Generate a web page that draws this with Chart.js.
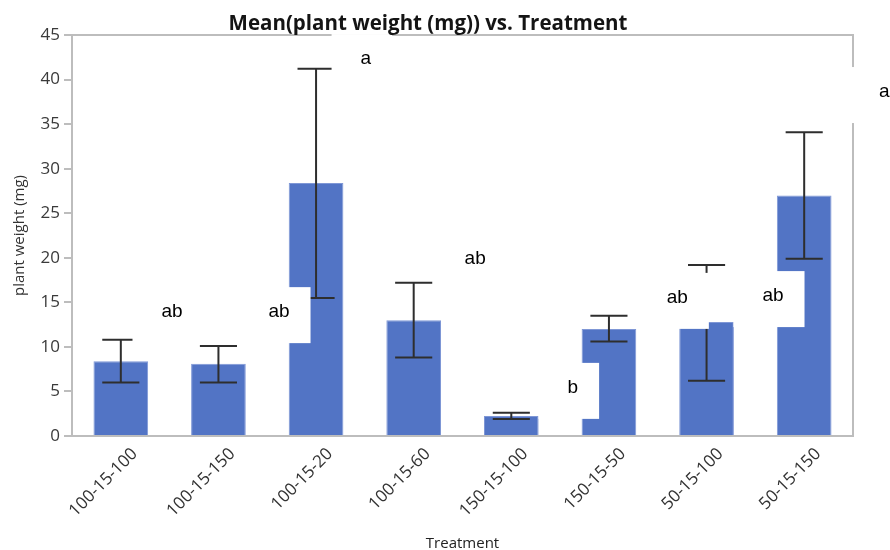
<!DOCTYPE html>
<html>
<head>
<meta charset="utf-8">
<script src="https://cdn.jsdelivr.net/npm/chart.js@4.4.1/dist/chart.umd.min.js"></script>
<style>
  html, body { margin: 0; padding: 0; background: #ffffff; }
  #wrap { width: 890px; height: 550px; position: relative; }
</style>
</head>
<body>
<div id="wrap"><canvas id="c" width="890" height="550"></canvas></div>
<script>
// Treatment groups and mean plant weight (mg) with error-bar limits
const treatments = ['100-15-100', '100-15-150', '100-15-20', '100-15-60', '150-15-100', '150-15-50', '50-15-100', '50-15-150'];
const meanWeight = [8.4, 8.1, 28.4, 13.0, 2.25, 12.0, 12.8, 27.0];
const errLow = [6.0, 6.0, 15.5, 8.8, 1.9, 10.6, 6.2, 19.9];
const errHigh = [10.8, 10.1, 41.2, 17.2, 2.6, 13.5, 19.2, 34.1];
// Significance groups (letters) for each treatment
const groupLetters = ['ab', 'ab', 'a', 'ab', 'b', 'ab', 'ab', 'a'];
const yTickValues = [0, 5, 10, 15, 20, 25, 30, 35, 40, 45];

const FONT_UI = '"Open Sans", "DejaVu Sans", sans-serif';
const FRAME = '#bdbdbd';

// Top and right edges of the plot frame
const framePlugin = {
  id: 'plotFrame',
  beforeDatasetsDraw(chart) {
    const { ctx, chartArea: a } = chart;
    ctx.save();
    ctx.strokeStyle = FRAME;
    ctx.lineWidth = 2;
    ctx.beginPath();
    ctx.moveTo(a.left, a.top);
    ctx.lineTo(a.right, a.top);
    ctx.lineTo(a.right, a.bottom);
    ctx.stroke();
    ctx.restore();
  }
};

// Error bars, then the white letter boxes on top
const errorAndLetters = {
  id: 'errorAndLetters',
  afterDatasetsDraw(chart, args, opts) {
    const { ctx, scales: { x, y } } = chart;
    const catW = x.getPixelForValue(1) - x.getPixelForValue(0);
    ctx.save();
    ctx.strokeStyle = '#2e2e2e';
    ctx.lineWidth = 2;
    errLow.forEach((lo, i) => {
      const cx = x.getPixelForValue(i);
      const half = catW * 0.19;
      const yLo = y.getPixelForValue(lo);
      const yHi = y.getPixelForValue(errHigh[i]);
      ctx.beginPath();
      ctx.moveTo(cx, yLo); ctx.lineTo(cx, yHi);
      ctx.moveTo(cx - half, yLo); ctx.lineTo(cx + half, yLo);
      ctx.moveTo(cx - half, yHi); ctx.lineTo(cx + half, yHi);
      ctx.stroke();
    });

    ctx.font = opts.font;
    ctx.textAlign = 'center';
    ctx.textBaseline = 'middle';
    groupLetters.forEach((t, i) => {
      const cx = x.getPixelForValue(i + opts.shift[i]);
      const cy = y.getPixelForValue(opts.level[i]);
      const w = ctx.measureText(t).width;
      const left = cx - w / 2 - 29;
      const right = cx + w / 2 + 21;
      ctx.fillStyle = '#ffffff';
      ctx.fillRect(left, cy - 25, right - left, 56);
      ctx.fillStyle = '#000000';
      ctx.fillText(t, cx, cy);
    });
    ctx.restore();
  }
};

// Chart heading
const headingPlugin = {
  id: 'heading',
  afterDraw(chart, args, opts) {
    const { ctx } = chart;
    ctx.save();
    ctx.font = 'bold 20.5px ' + FONT_UI;
    ctx.fillStyle = '#141414';
    ctx.textAlign = 'center';
    ctx.textBaseline = 'alphabetic';
    ctx.fillText(opts.text, opts.x, opts.y);
    ctx.restore();
  }
};

new Chart(document.getElementById('c'), {
  type: 'bar',
  data: {
    labels: treatments,
    datasets: [{
      label: 'Mean(plant weight (mg))',
      data: meanWeight,
      backgroundColor: '#5274c5',
      borderColor: '#7f97d6',
      borderWidth: 1,
      categoryPercentage: 1.0,
      barPercentage: 0.56
    }]
  },
  options: {
    responsive: false,
    animation: false,
    devicePixelRatio: 1,
    layout: { padding: { left: 0, right: 37, top: 35, bottom: 0 } },
    plugins: {
      legend: { display: false },
      tooltip: { enabled: false },
      heading: { text: 'Mean(plant weight (mg)) vs. Treatment', x: 428, y: 30 },
      errorAndLetters: {
        font: '19px "Liberation Sans", Arial, sans-serif',
        shift: [0.525, 0.62, 0.51, 0.63, 0.63, 0.70, 0.68, 0.82],
        level: [13.9, 13.9, 42.3, 19.9, 5.4, 15.5, 15.7, 38.6]
      }
    },
    scales: {
      x: {
        grid: { display: false },
        border: { display: true, color: FRAME, width: 2 },
        ticks: {
          minRotation: 45, maxRotation: 45,
          labelOffset: 14,
          padding: 0,
          color: '#333333',
          font: { family: FONT_UI, size: 17 }
        },
        title: {
          display: true, text: 'Treatment', color: '#222222',
          font: { family: FONT_UI, size: 15 },
          padding: { top: 0, bottom: -3 }
        },
        afterFit(scale) { scale.height = 114; }
      },
      y: {
        min: 0, max: 45,
        afterBuildTicks(scale) { scale.ticks = yTickValues.map(v => ({ value: v })); },
        grid: { display: true, drawOnChartArea: false, color: FRAME, tickLength: 8, lineWidth: 2 },
        border: { display: true, color: FRAME, width: 2 },
        ticks: {
          padding: 4,
          color: '#3a3a3a',
          font: { family: FONT_UI, size: 17 }
        },
        title: {
          display: true, text: 'plant weight (mg)', color: '#333333',
          font: { family: FONT_UI, size: 15 },
          padding: { top: 11, bottom: 0 }
        },
        afterFit(scale) { scale.width = 72; }
      }
    }
  },
  plugins: [framePlugin, errorAndLetters, headingPlugin]
});
</script>
</body>
</html>
